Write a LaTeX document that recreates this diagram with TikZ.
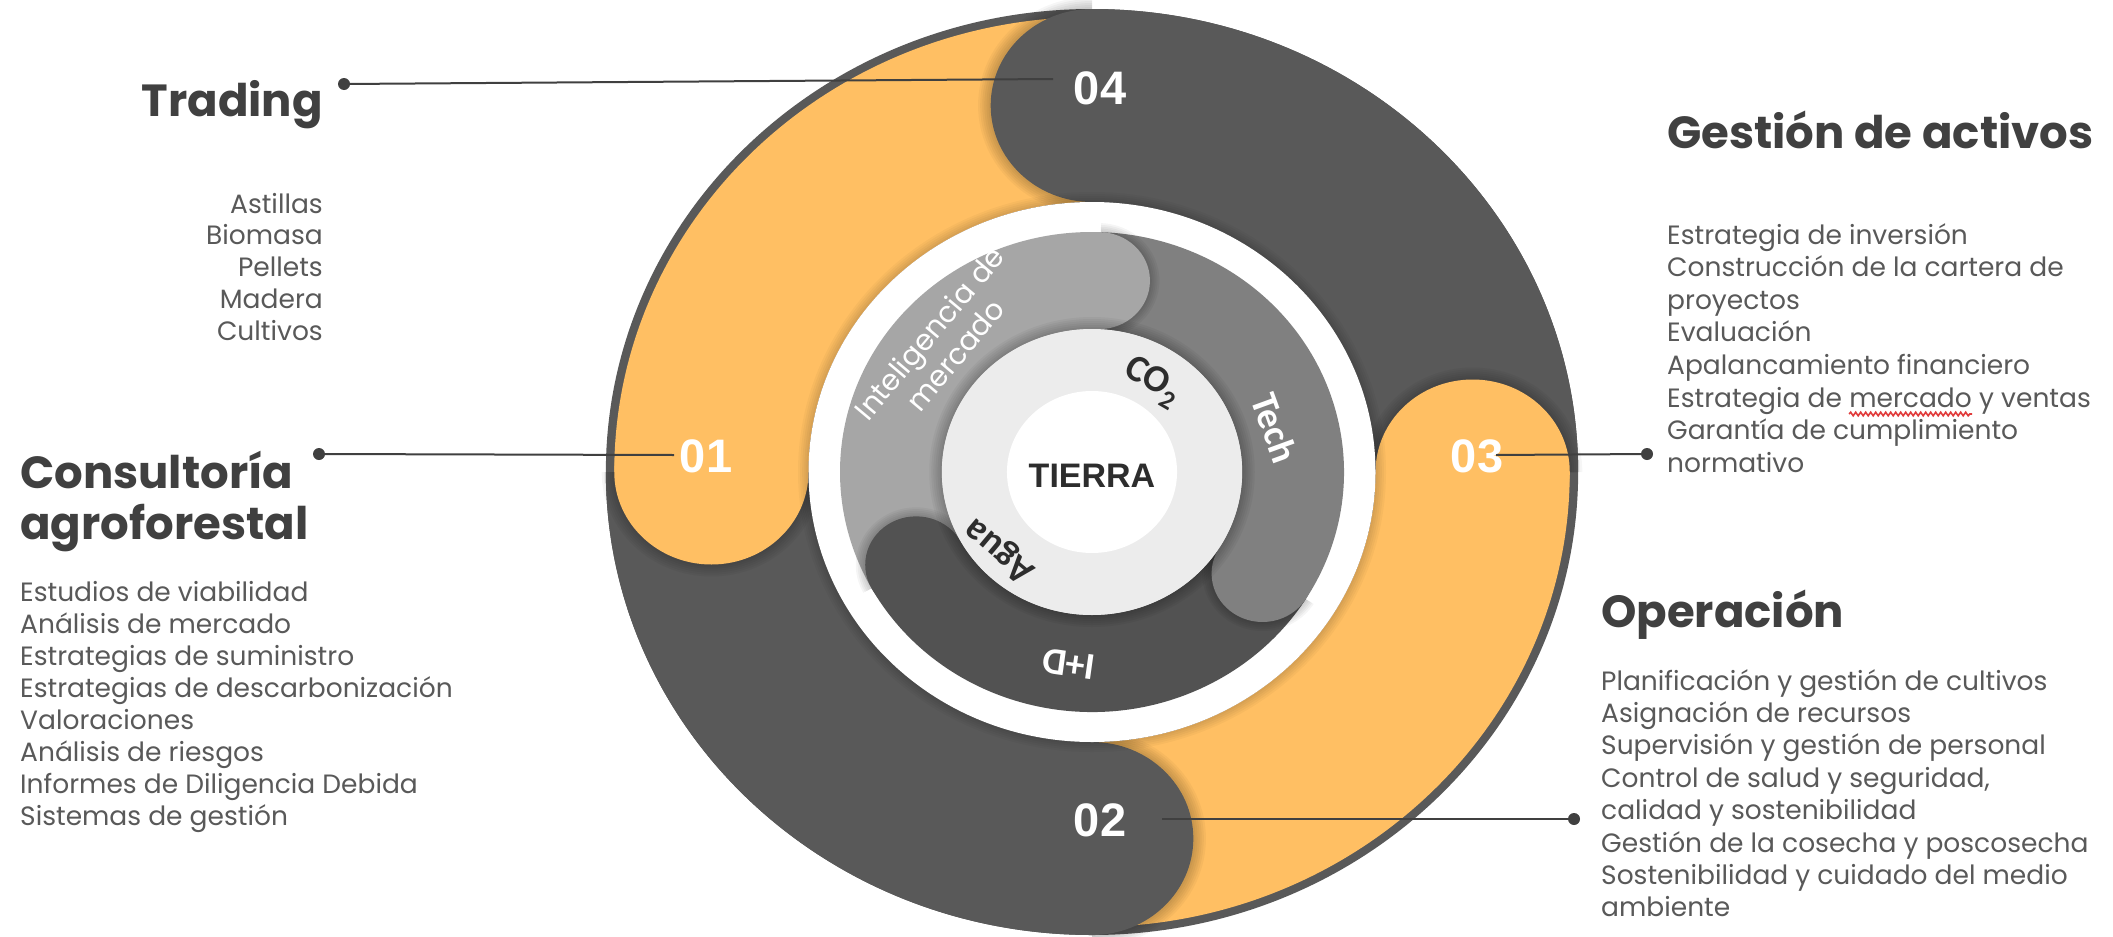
\documentclass[tikz,border=0pt]{standalone}
\usepackage{fontspec}
\setmainfont{Poppins}
\newfontfamily\numfont{Liberation Sans}
\newfontfamily\calfont{Carlito}
\usetikzlibrary{calc,decorations.pathmorphing}
\definecolor{ringdark}{RGB}{89,89,89}
\definecolor{ringyel}{RGB}{255,191,99}
\definecolor{lgray}{RGB}{166,166,166}
\definecolor{mgray}{RGB}{128,128,128}
\definecolor{dgray}{RGB}{82,82,82}
\definecolor{diskc}{RGB}{236,236,236}
\definecolor{headc}{RGB}{64,64,64}
\definecolor{bodyc}{RGB}{89,89,89}
\definecolor{linec}{RGB}{64,64,64}
\definecolor{inkc}{RGB}{45,45,45}
\definecolor{squigc}{RGB}{225,60,60}
\begin{document}
\begin{tikzpicture}[x=1pt,y=1pt,
  headtxt/.style={font=\fontsize{45}{52}\selectfont\bfseries, text=headc, inner sep=0pt},
  bodytxt/.style={font=\fontsize{26.5}{32}\selectfont, text=bodyc, inner sep=0pt},
  numtxt/.style={font=\numfont\bfseries\fontsize{47}{50}\selectfont, text=white, inner sep=0pt},
  caltxt/.style={font=\calfont\bfseries\fontsize{38}{40}\selectfont, inner sep=0pt},
  conn/.style={draw=linec, line width=2pt},
  dotc/.style={circle, fill=linec, minimum size=12pt, inner sep=0pt},
  squig/.style={draw=squigc, line width=1.6pt, decorate, decoration={snake, amplitude=1.8pt, segment length=5pt}}
]
\useasboundingbox (0,0) rectangle (2113,-937);
\fill[white] (0,0) rectangle (2113,-937);

% ---------- outer swirl ring ----------
\begin{scope}[shift={(1092,-472)}, xscale=1.05]
  \fill[ringdark] (0,0) circle[radius=463pt];
  \foreach \h/\c/\ro in {90/ringdark/463pt, 0/ringyel/455pt, -90/ringdark/463pt, 180/ringyel/455pt}{
    \fill[\c] (\h:\ro) arc[start angle=\h, end angle=\h-90, radius=\ro]
      -- (\h-90:270pt) arc[start angle=\h-90, end angle=\h, radius=270pt] -- cycle;
  }
  \foreach \h/\c/\m/\w in {90/ringdark/366.5pt/96.5pt, 0/ringyel/362.5pt/92.5pt, -90/ringdark/366.5pt/96.5pt, 180/ringyel/362.5pt/92.5pt}{
    \begin{scope}
      \clip (0,0) -- (\h:700pt) arc[start angle=\h, end angle=\h+60, radius=700pt] -- cycle;
      \foreach \k in {1,...,6}{
        \fill[black, opacity=0.035] (\h:\m) circle[radius=\w+\k*2pt];
      }
    \end{scope}
    \fill[\c] (\h:\m) circle[radius=\w];
  }
  % white separating ring
  \foreach \k in {1,...,5}{
    \fill[black, opacity=0.03] (0,0) circle[radius=270pt+\k*2pt];
  }
  \fill[white] (0,0) circle[radius=270pt];
  % inner swirl ring
  \foreach \a/\b/\c in {88/209/lgray, 209/328/dgray, 328/448/mgray}{
    \fill[\c] (\a:240pt) arc[start angle=\a, end angle=\b, radius=240pt]
      -- (\b:143pt) arc[start angle=\b, end angle=\a, radius=143pt] -- cycle;
  }
  \foreach \a/\c in {88/lgray, 209/dgray, 328/mgray}{
    \begin{scope}
      \clip (0,0) -- (\a:400pt) arc[start angle=\a, end angle=\a-50, radius=400pt] -- cycle;
      \foreach \k in {1,...,5}{
        \fill[black, opacity=0.04] (\a:191.5pt) circle[radius=48.5pt+\k*1.8pt];
      }
    \end{scope}
    \fill[\c] (\a:191.5pt) circle[radius=48.5pt];
  }
  \foreach \k in {1,...,6}{
    \fill[black, opacity=0.04] (0,0) circle[radius=143pt+\k*2pt];
  }
  \fill[diskc] (0,0) circle[radius=143pt];
  \fill[white] (0,0) circle[radius=81pt];
\end{scope}

% ---------- inner labels ----------
\node[font=\numfont\bfseries\fontsize{34}{36}\selectfont, text=inkc, inner sep=0pt] (tierra) at (1092,-476) {TIERRA};
\node[caltxt, text=inkc, rotate=-30] (co2) at (1152,-382) {CO\textsubscript{2}};
\node[caltxt, text=white, rotate=-70] (tech) at (1275,-428) {Tech};
\node[caltxt, text=inkc, rotate=140] (agua) at (1000,-550) {Agua};
\node[caltxt, text=white, rotate=172] (imasd) at (1069,-664) {I+D};
\node[font=\fontsize{29}{34}\selectfont, text=white, align=center, inner sep=0pt, rotate=50] (intel) at (942,-344) {Inteligencia de\\mercado};

% ---------- numbers ----------
\node[numtxt] (n04) at (1100,-88) {04};
\node[numtxt] (n01) at (706,-456) {01};
\node[numtxt] (n03) at (1477,-456) {03};
\node[numtxt] (n02) at (1100,-820) {02};

% ---------- connectors ----------
\node[dotc] (dtr) at (344,-84) {};
\node[dotc] (dco) at (319,-454) {};
\node[dotc] (dge) at (1647,-454) {};
\node[dotc] (dop) at (1574,-819) {};
\coordinate (e04) at (1053,-79);
\coordinate (e01) at (674,-455);
\coordinate (e03) at (1496,-455);
\coordinate (e02) at (1162,-819);
\draw[conn] (dtr.center) -- (e04);
\draw[conn] (dco.center) -- (e01);
\draw[conn] (e03) -- (dge.center);
\draw[conn] (e02) -- (dop.center);

% ---------- headings ----------
\node[headtxt, anchor=base east] (trading) at (323,-116) {Trading};
\node[headtxt, anchor=base west] (consul) at (20,-488) {Consultoría};
\node[headtxt, anchor=base west] (agro) at (20,-539) {agroforestal};
\node[headtxt, anchor=base west] (gestion) at (1667,-148) {Gestión de activos};
\node[headtxt, anchor=base west] (operacion) at (1601,-627) {Operación};

% ---------- lists ----------
\foreach \t [count=\i] in {Astillas,Biomasa,Pellets,Madera,Cultivos}
  \node[bodytxt, anchor=base east] (tr\i) at (323,{-213-(\i-1)*31.75}) {\t};
\foreach \t [count=\i] in {Estudios de viabilidad,Análisis de mercado,Estrategias de suministro,Estrategias de descarbonización,Valoraciones,Análisis de riesgos,Informes de Diligencia Debida,Sistemas de gestión}
  \node[bodytxt, anchor=base west] (co\i) at (20,{-601-(\i-1)*32.1}) {\t};
\foreach \t [count=\i] in {Estrategia de inversión,Construcción de la cartera de,proyectos,Evaluación,Apalancamiento financiero}
  \node[bodytxt, anchor=base west] (gs\i) at (1667,{-244-(\i-1)*32.6}) {\t};
\node[bodytxt, anchor=base west] (gs6) at (1667,-407) {Estrategia de};
\node[bodytxt, anchor=base west] (gsm) at ([xshift=7pt]gs6.base east) {mercado};
\node[bodytxt, anchor=base west] (gsv) at ([xshift=7pt]gsm.base east) {y ventas};
\node[bodytxt, anchor=base west] (gs7) at (1667,-439.6) {Garantía de cumplimiento};
\node[bodytxt, anchor=base west] (gs8) at (1667,-472.2) {normativo};
\foreach \t [count=\i] in {Planificación y gestión de cultivos,Asignación de recursos,Supervisión y gestión de personal,{Control de salud y seguridad,},calidad y sostenibilidad,Gestión de la cosecha y poscosecha,Sostenibilidad y cuidado del medio,ambiente}
  \node[bodytxt, anchor=base west] (op\i) at (1601,{-690-(\i-1)*32.4}) {\t};

\coordinate (sqa) at ([yshift=-7pt]gsm.base west);
\coordinate (sqb) at ([yshift=-7pt]gsm.base east);
\draw[squig] (sqa) -- (sqb);
\end{tikzpicture}
\end{document}
